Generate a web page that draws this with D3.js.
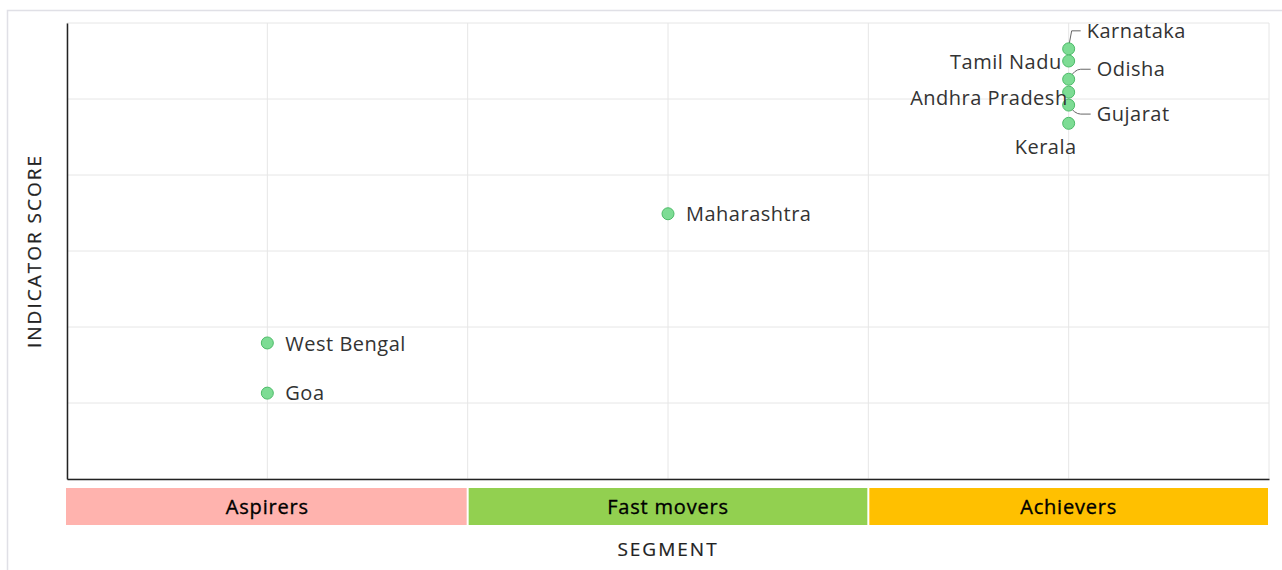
<!DOCTYPE html>
<html>
<head>
<meta charset="utf-8">
<script src="https://cdn.jsdelivr.net/npm/d3@7"></script>
<style>
  body { margin: 0; background: #fff; font-family: "Open Sans", "Noto Sans", sans-serif; }
</style>
</head>
<body>
<div id="chart"></div>
<script>
// segments on the x axis
var segments = ["Aspirers", "Fast movers", "Achievers"];
var segmentColors = ["#ffb3ae", "#92d050", "#ffc000"];

// states, their segment and indicator score
var states = ["Karnataka", "Tamil Nadu", "Odisha", "Andhra Pradesh", "Gujarat", "Kerala", "Maharashtra", "West Bengal", "Goa"];
var stateSegment = ["Achievers", "Achievers", "Achievers", "Achievers", "Achievers", "Achievers", "Fast movers", "Aspirers", "Aspirers"];
var scores = [56.6, 55.0, 52.6, 50.9, 49.2, 46.8, 34.9, 17.9, 11.3];

var yTicks = [0, 10, 20, 30, 40, 50, 60];

// label placement relative to point: dx, dy, anchor, leader line
var labelPlace = {
  "Karnataka":      { dx: 18, dy: -18, anchor: "start", leader: true },
  "Tamil Nadu":     { dx: -7, dy: 1, anchor: "end" },
  "Odisha":         { dx: 28, dy: -10, anchor: "start", leader: true },
  "Andhra Pradesh": { dx: -1, dy: 6, anchor: "end" },
  "Gujarat":        { dx: 28, dy: 9, anchor: "start", leader: true },
  "Kerala":         { dx: 8, dy: 24, anchor: "end" },
  "Maharashtra":    { dx: 18, dy: 0, anchor: "start" },
  "West Bengal":    { dx: 18, dy: 1, anchor: "start" },
  "Goa":            { dx: 18, dy: 0, anchor: "start" }
};

var svgWidth = 1282;
var svgHeight = 570;
var margin = { top: 23, right: 13, bottom: 91, left: 67 };
var chartWidth = svgWidth - margin.left - margin.right;
var chartHeight = svgHeight - margin.top - margin.bottom;

var svg = d3.select("#chart")
  .append("svg")
  .attr("width", svgWidth)
  .attr("height", svgHeight);

// outer frame
svg.append("rect")
  .attr("x", 7.5)
  .attr("y", 10.5)
  .attr("width", svgWidth)
  .attr("height", svgHeight)
  .attr("fill", "none")
  .attr("stroke", "#e0e0e6")
  .attr("stroke-width", 1.5);

var chartGroup = svg.append("g")
  .attr("transform", `translate(${margin.left}, ${margin.top})`);

var xScale = d3.scaleLinear()
  .domain([0.5, segments.length + 0.5])
  .range([0, chartWidth]);

var yScale = d3.scaleLinear()
  .domain([0, 60])
  .range([chartHeight, 0]);

// grid lines
var xGrid = d3.range(0.5, segments.length + 0.51, 0.5);
chartGroup.append("g")
  .selectAll("line")
  .data(xGrid)
  .enter()
  .append("line")
  .attr("x1", d => xScale(d))
  .attr("x2", d => xScale(d))
  .attr("y1", 0)
  .attr("y2", chartHeight)
  .attr("stroke", "#e6e6e6")
  .attr("stroke-width", 1);

chartGroup.append("g")
  .selectAll("line")
  .data(yTicks)
  .enter()
  .append("line")
  .attr("x1", 0)
  .attr("x2", chartWidth)
  .attr("y1", d => yScale(d))
  .attr("y2", d => yScale(d))
  .attr("stroke", "#e6e6e6")
  .attr("stroke-width", 1);

// axes lines (no ticks or labels)
chartGroup.append("g")
  .attr("transform", `translate(0, ${chartHeight})`)
  .call(d3.axisBottom(xScale).tickValues([]).tickSizeOuter(0))
  .select(".domain").attr("stroke", "#222").attr("stroke-width", 1.5);

chartGroup.append("g")
  .call(d3.axisLeft(yScale).tickValues([]).tickSizeOuter(0))
  .select(".domain").attr("stroke", "#222").attr("stroke-width", 1.5);

// segment bands under the axis
var bandGroup = chartGroup.append("g")
  .attr("transform", `translate(0, ${chartHeight + 9})`);

bandGroup.selectAll("rect")
  .data(segments)
  .enter()
  .append("rect")
  .attr("x", (d, i) => xScale(i + 0.5) - 1 + (i > 0 ? 2 : 0))
  .attr("width", (d, i) => xScale(i + 1.5) - xScale(i + 0.5) - (i > 0 ? 2 : 0))
  .attr("y", 0)
  .attr("height", 37)
  .attr("fill", (d, i) => segmentColors[i]);

bandGroup.selectAll("text")
  .data(segments)
  .enter()
  .append("text")
  .attr("x", (d, i) => xScale(i + 1))
  .attr("y", 19)
  .attr("dy", "0.35em")
  .attr("text-anchor", "middle")
  .attr("font-size", 20)
  .attr("letter-spacing", 0.8)
  .attr("fill", "#000")
  .attr("stroke", "#000")
  .attr("stroke-width", 0.35)
  .text(d => d);

// points
var points = states.map(function(s, i) {
  return {
    name: s,
    x: segments.indexOf(stateSegment[i]) + 1,
    y: scores[i]
  };
});

// leader lines
chartGroup.append("g")
  .selectAll("path")
  .data(points.filter(d => labelPlace[d.name].leader))
  .enter()
  .append("path")
  .attr("d", function(d) {
    var p = labelPlace[d.name];
    var x0 = xScale(d.x), y0 = yScale(d.y);
    var x1 = x0 + p.dx - 6, y1 = y0 + p.dy;
    if (p.dy < -12) {
      return `M${x0},${y0 - 2} L${x0 + 3},${y1} L${x1},${y1}`;
    }
    return `M${x0},${y0} Q${x0 + 6},${y1} ${x0 + 12},${y1} L${x1},${y1}`;
  })
  .attr("fill", "none")
  .attr("stroke", "#666")
  .attr("stroke-width", 1);

chartGroup.append("g")
  .selectAll("circle")
  .data(points)
  .enter()
  .append("circle")
  .attr("cx", d => xScale(d.x))
  .attr("cy", d => yScale(d.y))
  .attr("r", 6)
  .attr("fill", "#7ddc94")
  .attr("stroke", "#4cbb68")
  .attr("stroke-width", 1);

chartGroup.append("g")
  .selectAll("text")
  .data(points)
  .enter()
  .append("text")
  .attr("x", d => xScale(d.x) + labelPlace[d.name].dx)
  .attr("y", d => yScale(d.y) + labelPlace[d.name].dy)
  .attr("dy", "0.35em")
  .attr("text-anchor", d => labelPlace[d.name].anchor)
  .attr("font-size", 20)
  .attr("letter-spacing", 0.5)
  .attr("fill", "#333")
  .text(d => d.name);

// axis titles
chartGroup.append("text")
  .attr("transform", "rotate(-90)")
  .attr("x", -chartHeight / 2)
  .attr("y", -26)
  .attr("text-anchor", "middle")
  .attr("font-size", 19)
  .attr("letter-spacing", 2)
  .attr("fill", "#222")
  .attr("stroke", "#222")
  .attr("stroke-width", 0.2)
  .text("INDICATOR SCORE");

chartGroup.append("text")
  .attr("x", chartWidth / 2)
  .attr("y", chartHeight + 70)
  .attr("dy", "0.35em")
  .attr("text-anchor", "middle")
  .attr("font-size", 19)
  .attr("letter-spacing", 2)
  .attr("fill", "#222")
  .attr("stroke", "#222")
  .attr("stroke-width", 0.2)
  .text("SEGMENT");
</script>
</body>
</html>
